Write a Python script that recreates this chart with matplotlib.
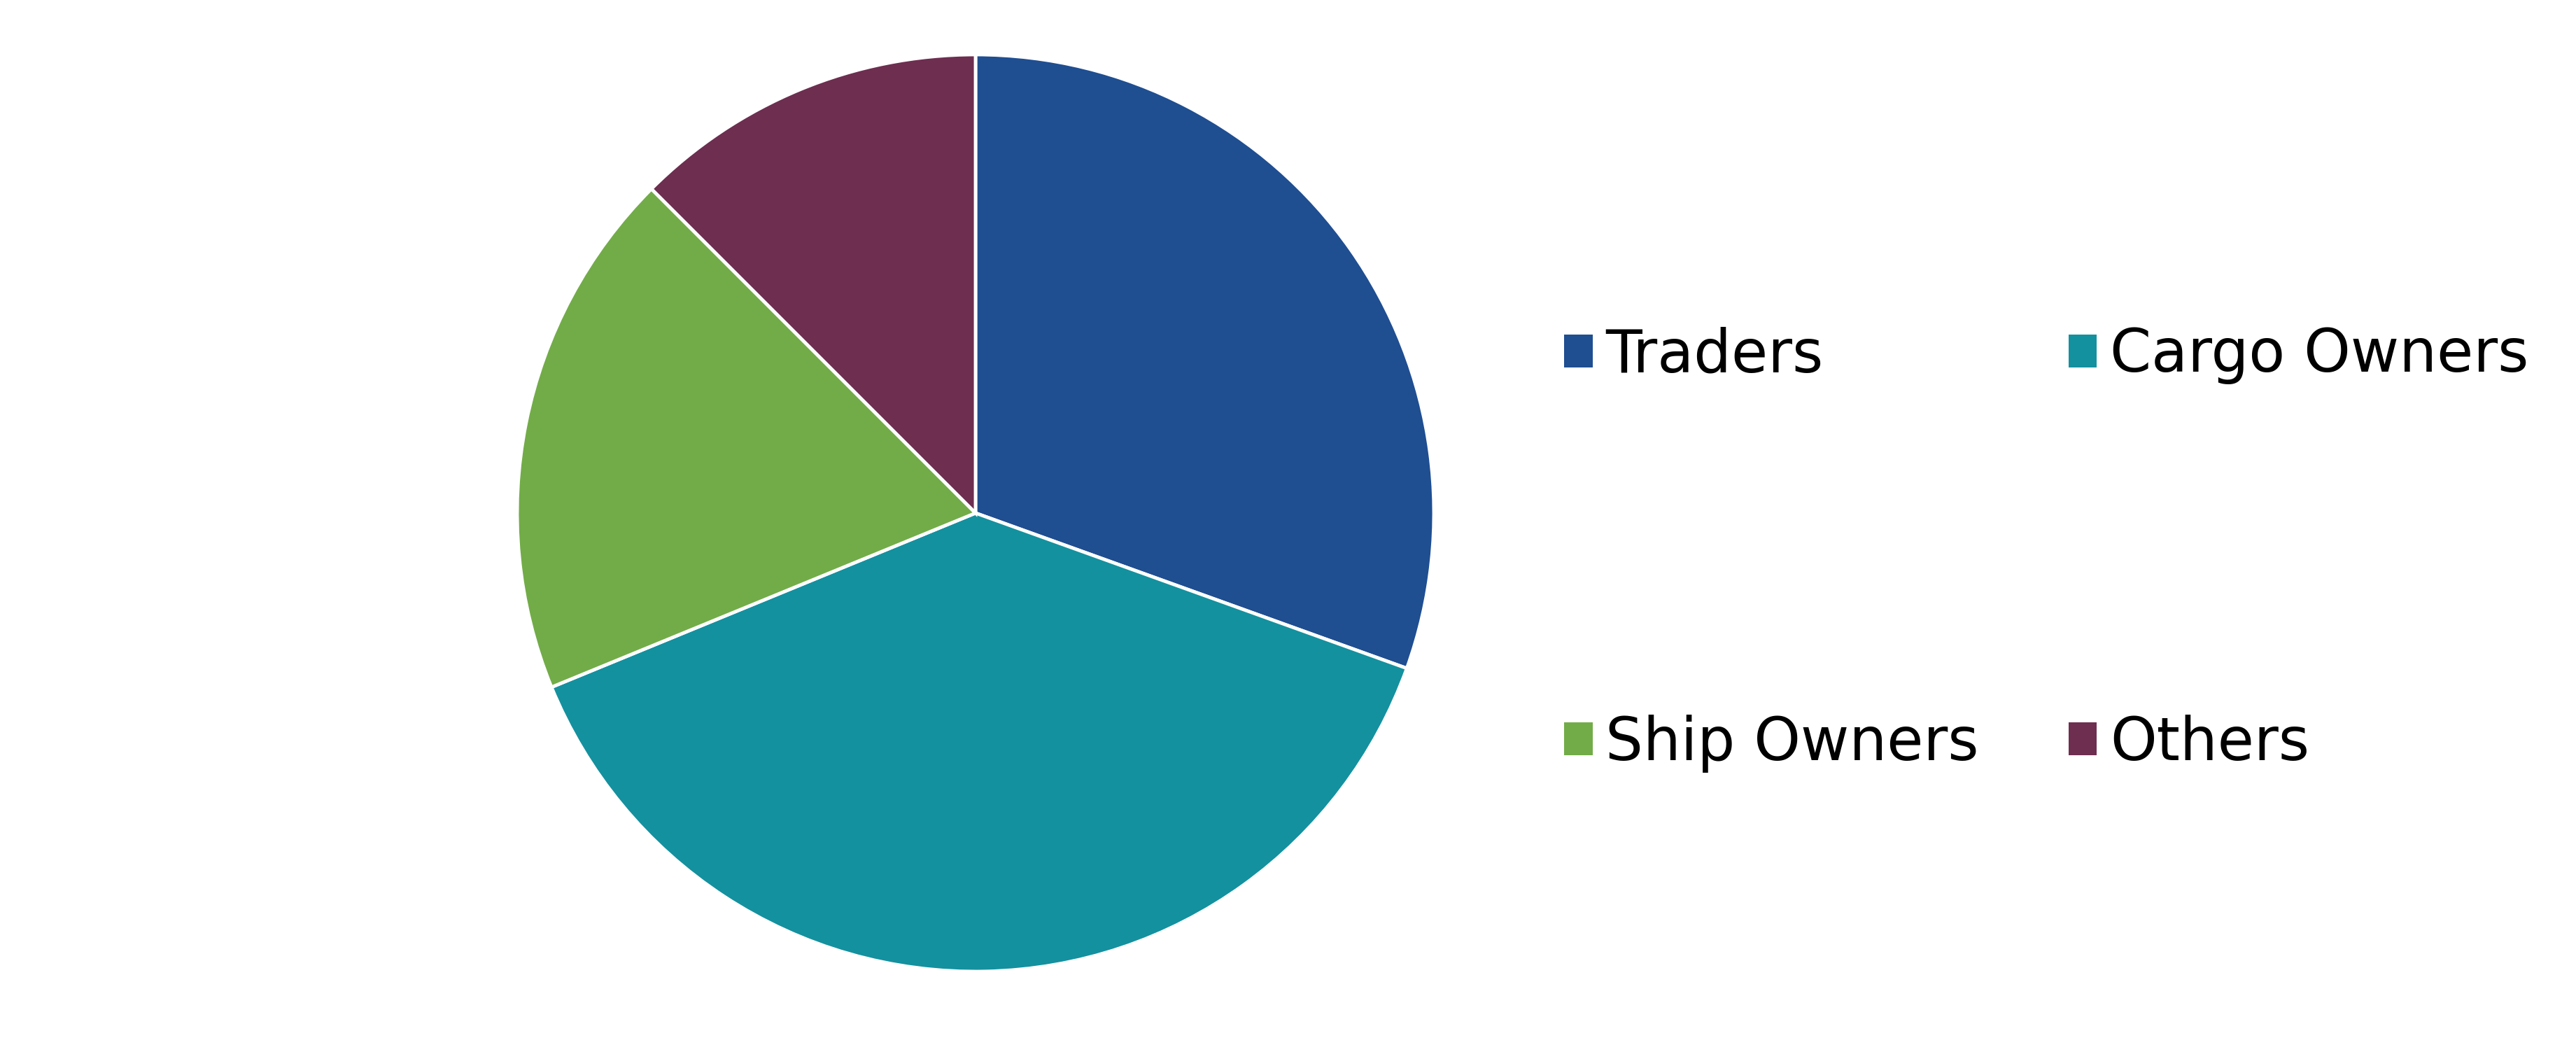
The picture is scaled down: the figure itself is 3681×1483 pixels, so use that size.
import matplotlib
matplotlib.use("Agg")
import matplotlib.pyplot as plt
from matplotlib.patches import Patch

categories = ["Traders", "Cargo Owners", "Ship Owners", "Others"]
values = [30.5, 38.3, 18.7, 12.5]
colors = ["#1F4E91", "#13919F", "#72AC48", "#6D2E50"]

W, H = 3681, 1483
fig = plt.figure(figsize=(W / 100, H / 100), dpi=100)
fig.patch.set_facecolor("white")

cx, cy, r = 1394, 733, 655
ax = fig.add_axes([(cx - r) / W, (H - cy - r) / H, 2 * r / W, 2 * r / H])
ax.pie(values, colors=colors, startangle=90, counterclock=False, radius=1,
       wedgeprops=dict(edgecolor="white", linewidth=3.5))
ax.set_xlim(-1, 1)
ax.set_ylim(-1, 1)
ax.set_aspect("equal")
ax.axis("off")

# legend filled row-wise (matplotlib fills column-wise, so reorder)
order = [0, 2, 1, 3]
handles = [Patch(facecolor=colors[i], edgecolor="none") for i in order]
labels = [categories[i] for i in order]
fig.legend(handles, labels, ncol=2, loc="center left",
           bbox_to_anchor=(2235 / W, 1 - 785 / H),
           frameon=False, borderpad=0, borderaxespad=0,
           handlelength=0.48, handleheight=0.48, handletextpad=0.22,
           columnspacing=1.51, labelspacing=5.56,
           prop={"family": "DejaVu Sans", "size": 61})

fig.savefig("out.png", dpi=100, facecolor="white")
